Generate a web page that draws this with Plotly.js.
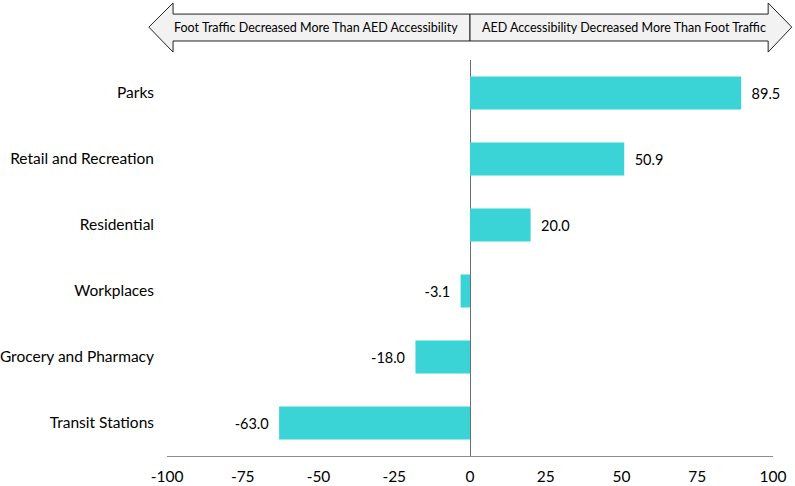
<!DOCTYPE html>
<html>
<head>
<meta charset="utf-8">
<script src="https://cdn.plot.ly/plotly-3.0.1.min.js"></script>
<style>
  html, body { margin: 0; padding: 0; background: #fff; }
  #chart { width: 795px; height: 486px; }
</style>
</head>
<body>
<div id="chart"></div>
<script>
// Change in AED accessibility vs foot traffic by place type
const categories = ['Parks', 'Retail and Recreation', 'Residential', 'Workplaces', 'Grocery and Pharmacy', 'Transit Stations'];
const differences = [89.5, 50.9, 20.0, -3.1, -18.0, -63.0];
const tickValues = [-100, -75, -50, -25, 0, 25, 50, 75, 100];
const leftBanner = 'Foot Traffic Decreased More Than AED Accessibility';
const rightBanner = 'AED Accessibility Decreased More Than Foot Traffic';

const fontFamily = 'Lato, "Open Sans", sans-serif';

// Banner arrow geometry (paper coords)
const yTop = 1.144, yBodyTop = 1.116, yMid = 1.083, yBodyBot = 1.048, yBot = 1.020;

function leftArrow() {
    const tip = -0.030, back = 0.010, mid = 0.5;
    return `M ${tip},${yMid} L ${back},${yTop} L ${back},${yBodyTop} L ${mid},${yBodyTop} ` +
           `L ${mid},${yBodyBot} L ${back},${yBodyBot} L ${back},${yBot} Z`;
}

function rightArrow() {
    const tip = 1.031, back = 0.992, mid = 0.5;
    return `M ${tip},${yMid} L ${back},${yTop} L ${back},${yBodyTop} L ${mid},${yBodyTop} ` +
           `L ${mid},${yBodyBot} L ${back},${yBodyBot} L ${back},${yBot} Z`;
}

// pad the value labels away from the bar ends
const labelTemplates = differences.map(v => v >= 0 ? '  %{x:.1f}' : '%{x:.1f}  ');

const data = [
    {
        type: 'bar',
        orientation: 'h',
        x: differences,
        y: categories,
        marker: { color: '#3bd4d6' },
        texttemplate: labelTemplates,
        textposition: 'outside',
        cliponaxis: false,
        textfont: { family: fontFamily, size: 14.5, color: '#000' },
        hoverinfo: 'x+y'
    }
];

const layout = {
    width: 795,
    height: 486,
    margin: { l: 167, r: 22, t: 60, b: 30 },
    paper_bgcolor: '#fff',
    plot_bgcolor: '#fff',
    showlegend: false,
    bargap: 0.5,
    font: { family: fontFamily, size: 14, color: '#000' },
    xaxis: {
        range: [-100, 100],
        tickvals: tickValues,
        ticktext: tickValues.map(v => String(v)),
        showgrid: false,
        showline: true,
        linecolor: '#8c8c8c',
        linewidth: 1,
        zeroline: true,
        zerolinecolor: '#6e6e6e',
        zerolinewidth: 1,
        ticks: '',
        ticklabelstandoff: 6,
        tickfont: { family: fontFamily, size: 15.5, color: '#000' },
        fixedrange: true
    },
    yaxis: {
        autorange: 'reversed',
        showgrid: false,
        showline: false,
        zeroline: false,
        ticks: '',
        ticklabelstandoff: 12,
        tickfont: { family: fontFamily, size: 15.5, color: '#000' },
        fixedrange: true
    },
    shapes: [
        {
            type: 'path', xref: 'paper', yref: 'paper',
            path: leftArrow(),
            fillcolor: '#f2f2f2',
            line: { color: '#222', width: 1 }
        },
        {
            type: 'path', xref: 'paper', yref: 'paper',
            path: rightArrow(),
            fillcolor: '#f2f2f2',
            line: { color: '#222', width: 1 }
        }
    ],
    annotations: [
        {
            xref: 'paper', yref: 'paper',
            x: 0.2466, y: yMid,
            text: leftBanner,
            showarrow: false,
            xanchor: 'center', yanchor: 'middle',
            font: { family: fontFamily, size: 12.5, color: '#000' }
        },
        {
            xref: 'paper', yref: 'paper',
            x: 0.754, y: yMid,
            text: rightBanner,
            showarrow: false,
            xanchor: 'center', yanchor: 'middle',
            font: { family: fontFamily, size: 12.5, color: '#000' }
        }
    ]
};

const config = {
    responsive: false,
    displayModeBar: false,
    staticPlot: true
};

Plotly.newPlot('chart', data, layout, config);
</script>
</body>
</html>
